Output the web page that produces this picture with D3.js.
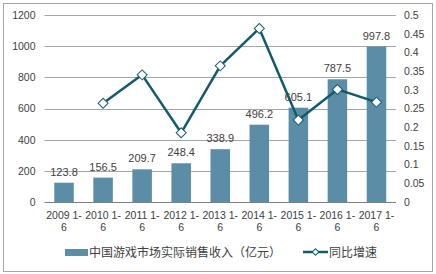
<!DOCTYPE html>
<html><head><meta charset="utf-8">
<script src="https://cdn.jsdelivr.net/npm/d3@7"></script>
<style>body{margin:0;background:#fff}svg{display:block;font-family:"Liberation Sans",Arial,sans-serif}</style>
</head><body><svg id="c" width="436" height="274"></svg>
<script>
const categories = ["2009 1-6","2010 1-6","2011 1-6","2012 1-6","2013 1-6","2014 1-6","2015 1-6","2016 1-6","2017 1-6"];
const revenue = [123.8,156.5,209.7,248.4,338.9,496.2,605.1,787.5,997.8];
const growth = [null,0.264,0.340,0.185,0.364,0.464,0.219,0.301,0.267];
const leftTicks = [0,200,400,600,800,1000,1200];
const rightTicks = [0,0.05,0.1,0.15,0.2,0.25,0.3,0.35,0.4,0.45,0.5];
const barName = "中国游戏市场实际销售收入（亿元）";
const lineName = "同比增速";

const svg = d3.select("#c");
const L=44.5, R=396, T=15, B=202;
const barColor="#5b8ea6", lineColor="#135b6b", textColor="#404040";

svg.append("rect").attr("x",3.5).attr("y",3.5).attr("width",429).attr("height",268)
  .attr("fill","#fff").attr("stroke","#a6a6a6");

const x = d3.scaleBand().domain(categories).range([L,R]).paddingInner(0.5).paddingOuter(0.25);
const y = d3.scaleLinear().domain([0,1200]).range([B,T]);
const y2 = d3.scaleLinear().domain([0,0.5]).range([B,T]);

// grid
svg.append("g").selectAll("line").data(leftTicks.filter(d=>d>0)).join("line")
  .attr("x1",L).attr("x2",R).attr("y1",d=>Math.round(y(d))+0.5).attr("y2",d=>Math.round(y(d))+0.5)
  .attr("stroke","#a6a6a6").attr("stroke-width",1);

// left axis
const ga = svg.append("g").attr("transform",`translate(${L},0)`)
  .call(d3.axisLeft(y).tickValues(leftTicks).tickSize(0).tickPadding(9).tickFormat(d3.format("d")));
ga.select(".domain").remove();
ga.selectAll("text").attr("fill",textColor).style("font-size","10.5px").style("font-family","Liberation Sans, Arial");

// right axis
const gr = svg.append("g").attr("transform",`translate(${R},0)`)
  .call(d3.axisRight(y2).tickValues(rightTicks).tickSize(0).tickPadding(8).tickFormat(d=>String(+d.toFixed(2))));
gr.select(".domain").remove();
gr.selectAll("text").attr("fill",textColor).style("font-size","10.5px").style("font-family","Liberation Sans, Arial");

// bars
svg.append("g").selectAll("rect").data(revenue).join("rect")
  .attr("x",(d,i)=>x(categories[i])).attr("width",x.bandwidth())
  .attr("y",d=>y(d)).attr("height",d=>B-y(d)).attr("fill",barColor);

// baseline
svg.append("line").attr("x1",L).attr("x2",R).attr("y1",B+0.5).attr("y2",B+0.5).attr("stroke","#7f7f7f");

// bar labels
svg.append("g").selectAll("text").data(revenue).join("text")
  .attr("x",(d,i)=>x(categories[i])+x.bandwidth()/2).attr("y",d=>y(d)-7)
  .attr("text-anchor","middle").attr("fill",textColor).style("font-size","11px")
  .text(d=>d.toFixed(1));

// category labels
const cl = svg.append("g").selectAll("text").data(categories).join("text")
  .attr("text-anchor","middle").attr("fill",textColor).style("font-size","10.5px");
cl.append("tspan").attr("x",(d)=>x(d)+x.bandwidth()/2).attr("y",219).text(d=>d.slice(0,d.length-1));
cl.append("tspan").attr("x",(d)=>x(d)+x.bandwidth()/2).attr("y",231).text(d=>d.slice(-1));

// line
const pts = growth.map((g,i)=>({g,c:categories[i]})).filter(d=>d.g!==null);
const line = d3.line().x(d=>x(d.c)+x.bandwidth()/2).y(d=>y2(d.g));
svg.append("path").datum(pts).attr("d",line).attr("fill","none").attr("stroke",lineColor).attr("stroke-width",2.5).attr("stroke-linejoin","round");
svg.append("g").selectAll("path").data(pts).join("path")
  .attr("d",d3.symbol().type(d3.symbolSquare).size(50)()).attr("transform",d=>`translate(${x(d.c)+x.bandwidth()/2},${y2(d.g)}) rotate(45)`)
  .attr("fill","#fff").attr("stroke",lineColor).attr("stroke-width",1);

// legend
const ly=252;
svg.append("rect").attr("x",65).attr("y",ly-3).attr("width",23).attr("height",7).attr("fill",barColor);
svg.append("text").attr("x",89).attr("y",ly+4.5).attr("fill",textColor).style("font-size","12px")
  .style("font-family","'Noto Sans CJK SC',sans-serif").text(barName);
svg.append("line").attr("x1",303).attr("x2",328).attr("y1",ly).attr("y2",ly).attr("stroke",lineColor).attr("stroke-width",2.5);
svg.append("path").attr("d",d3.symbol().type(d3.symbolSquare).size(22)()).attr("transform",`translate(315.5,${ly}) rotate(45)`)
  .attr("fill","#fff").attr("stroke",lineColor).attr("stroke-width",1);
svg.append("text").attr("x",329).attr("y",ly+4.5).attr("fill",textColor).style("font-size","12px")
  .style("font-family","'Noto Sans CJK SC',sans-serif").text(lineName);
</script></body></html>
